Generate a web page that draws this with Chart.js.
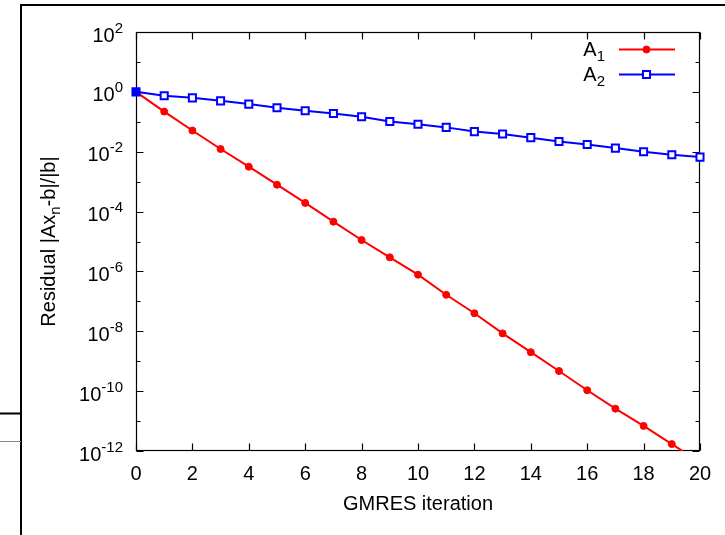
<!DOCTYPE html>
<html>
<head>
<meta charset="utf-8">
<script src="https://cdn.jsdelivr.net/npm/chart.js@4"></script>
<style>
  body { margin: 0; background: #fff; }
  canvas { display: block; }
</style>
</head>
<body>
<canvas id="grafico" width="725" height="535"></canvas>
<script>
// GMRES iterations on the x axis
const iterations = [0, 1, 2, 3, 4, 5, 6, 7, 8, 9, 10, 11, 12, 13, 14, 15, 16, 17, 18, 19, 20];

// residual |Ax_n-b|/|b|
const residualA1 = [1, 2.19e-1, 5.1e-2, 1.23e-2, 3.16e-3, 7.9e-4, 1.95e-4, 4.6e-5, 1.12e-5, 2.95e-6,
  7.8e-7, 1.66e-7, 4.0e-8, 8.5e-9, 2.0e-9, 4.7e-10, 1.07e-10, 2.6e-11, 6.9e-12, 1.7e-12, 4.2e-13];
const residualA2 = [1, 0.74, 0.63, 0.50, 0.39, 0.295, 0.234, 0.19, 0.148, 0.102,
  0.083, 0.065, 0.047, 0.039, 0.0295, 0.0219, 0.0174, 0.0132, 0.0100, 0.0079, 0.0066];

const seriesNames = ['A', 'A'];
const seriesSubs = ['1', '2'];

// y tick labels: 10^exp
const yTickExps = [2, 0, -2, -4, -6, -8, -10, -12];
const yMinorExps = [1, -1, -3, -5, -7, -9, -11];
const xTicks = [0, 2, 4, 6, 8, 10, 12, 14, 16, 18, 20];

const FONT = "'Liberation Sans', Arial, Helvetica, sans-serif";
const RED = '#ff0000';
const BLUE = '#0000ff';

Chart.defaults.font.family = FONT;
Chart.defaults.color = '#000';

function dibujarTexto(ctx, parts, x, y) {
  // parts: [texto, tamaño, desplazamiento vertical]
  let cx = x;
  parts.forEach(p => {
    ctx.font = p[1] + 'px ' + FONT;
    ctx.fillText(p[0], cx, y + p[2]);
    cx += ctx.measureText(p[0]).width;
  });
}

function anchoTexto(ctx, parts) {
  let w = 0;
  parts.forEach(p => {
    ctx.font = p[1] + 'px ' + FONT;
    w += ctx.measureText(p[0]).width;
  });
  return w;
}

const decoracion = {
  id: 'decoracion',
  beforeDraw(chart) {
    const ctx = chart.ctx;
    ctx.save();
    ctx.fillStyle = '#fff';
    ctx.fillRect(0, 0, chart.width, chart.height);
    // page frame around the figure
    ctx.strokeStyle = '#000';
    ctx.lineWidth = 2;
    ctx.beginPath();
    ctx.moveTo(21, 535);
    ctx.lineTo(21, 5);
    ctx.lineTo(725, 5);
    ctx.moveTo(0, 413.5);
    ctx.lineTo(21, 413.5);
    ctx.stroke();
    ctx.lineWidth = 1;
    ctx.strokeStyle = '#8a8a8a';
    ctx.beginPath();
    ctx.moveTo(0, 441.5);
    ctx.lineTo(21, 441.5);
    ctx.stroke();
    ctx.restore();
  },
  beforeDatasetsDraw(chart) {
    const ctx = chart.ctx;
    const a = chart.chartArea;
    const xs = chart.scales.x;
    const ys = chart.scales.y;
    const L = Math.round(a.left) + 0.5, R = Math.round(a.right) - 0.5;
    const T = Math.round(a.top) + 0.5, B = Math.round(a.bottom) - 0.5;
    ctx.save();
    ctx.strokeStyle = '#000';
    ctx.lineWidth = 1.2;
    ctx.strokeRect(L, T, R - L, B - T);
    ctx.beginPath();
    // inward ticks on all four sides
    xTicks.forEach(v => {
      const px = Math.round(xs.getPixelForValue(v)) + 0.5;
      ctx.moveTo(px, B); ctx.lineTo(px, B - 7);
      ctx.moveTo(px, T); ctx.lineTo(px, T + 7);
    });
    yTickExps.forEach(e => {
      const py = Math.round(ys.getPixelForValue(Math.pow(10, e))) + 0.5;
      ctx.moveTo(L, py); ctx.lineTo(L + 7, py);
      ctx.moveTo(R, py); ctx.lineTo(R - 7, py);
    });
    yMinorExps.forEach(e => {
      const py = Math.round(ys.getPixelForValue(Math.pow(10, e))) + 0.5;
      ctx.moveTo(L, py); ctx.lineTo(L + 4, py);
      ctx.moveTo(R, py); ctx.lineTo(R - 4, py);
    });
    ctx.stroke();
    ctx.restore();
  },
  afterDraw(chart) {
    const ctx = chart.ctx;
    const a = chart.chartArea;
    const ys = chart.scales.y;
    ctx.save();
    ctx.fillStyle = '#000';
    ctx.textBaseline = 'alphabetic';
    ctx.textAlign = 'left';

    // y tick labels 10^n
    yTickExps.forEach(e => {
      const py = ys.getPixelForValue(Math.pow(10, e));
      ctx.font = '15px ' + FONT;
      const expo = String(e);
      const we = ctx.measureText(expo).width;
      ctx.fillText(expo, 123 - we, py + 0.5);
      ctx.font = '20px ' + FONT;
      const wb = ctx.measureText('10').width;
      ctx.fillText('10', 123 - we - wb, py + 9.5);
    });

    // y axis title, rotated
    const titulo = [['Residual |Ax', 20, 0], ['n', 15, 5], ['-b|/|b|', 20, 0]];
    ctx.save();
    ctx.translate(55, (a.top + a.bottom) / 2);
    ctx.rotate(-Math.PI / 2);
    const wt = anchoTexto(ctx, titulo);
    dibujarTexto(ctx, titulo, -wt / 2, 0);
    ctx.restore();

    // legend, top right inside the plot
    const filas = [49.5, 74.5];
    chart.data.datasets.forEach((ds, i) => {
      const y = filas[i];
      const parts = [[seriesNames[i], 20, 0], [seriesSubs[i], 15, 5]];
      const w = anchoTexto(ctx, parts);
      ctx.fillStyle = '#000';
      dibujarTexto(ctx, parts, 605 - w, y + 6);
      ctx.strokeStyle = ds.borderColor;
      ctx.lineWidth = ds.borderWidth;
      ctx.beginPath();
      ctx.moveTo(619, y);
      ctx.lineTo(675, y);
      ctx.stroke();
      ctx.fillStyle = ds.pointStyle === 'circle' ? ds.borderColor : '#fff';
      ctx.lineWidth = ds.pointBorderWidth;
      ctx.beginPath();
      if (ds.pointStyle === 'circle') {
        ctx.arc(646.5, y, ds.pointRadius, 0, Math.PI * 2);
      } else {
        const s = ds.pointRadius * Math.SQRT1_2;
        ctx.rect(646.5 - s, y - s, 2 * s, 2 * s);
      }
      ctx.fill();
      ctx.stroke();
    });
    ctx.restore();
  }
};

new Chart(document.getElementById('grafico'), {
  type: 'line',
  data: {
    labels: iterations,
    datasets: [{
      label: 'A1',
      data: iterations.map((x, i) => ({ x: x, y: residualA1[i] })),
      borderColor: RED,
      backgroundColor: RED,
      borderWidth: 2,
      pointStyle: 'circle',
      pointRadius: 3.5,
      pointBorderWidth: 1,
      pointBackgroundColor: RED,
      pointBorderColor: RED,
      order: 1,
      clip: { left: 8, right: 8, top: 8, bottom: 0 }
    }, {
      label: 'A2',
      data: iterations.map((x, i) => ({ x: x, y: residualA2[i] })),
      borderColor: BLUE,
      backgroundColor: BLUE,
      borderWidth: 2,
      pointStyle: 'rect',
      pointRadius: 5,
      pointBorderWidth: 2,
      pointBackgroundColor: ctx => ctx.dataIndex === 0 ? BLUE : '#fff',
      pointBorderColor: BLUE,
      order: 0,
      clip: { left: 8, right: 8, top: 8, bottom: 0 }
    }]
  },
  options: {
    responsive: false,
    animation: false,
    events: [],
    layout: { padding: { top: 32, right: 25, left: 0, bottom: 0 } },
    plugins: {
      legend: { display: false },
      tooltip: { enabled: false }
    },
    elements: { line: { tension: 0 } },
    scales: {
      x: {
        type: 'linear',
        min: 0,
        max: 20,
        grid: { display: false, drawTicks: false },
        border: { display: false },
        ticks: {
          stepSize: 2,
          font: { size: 20 },
          color: '#000',
          padding: 11,
          maxRotation: 0
        },
        title: {
          display: true,
          text: 'GMRES iteration',
          font: { size: 20 },
          color: '#000',
          padding: { top: 0, bottom: 19 }
        },
        afterFit: s => { s.height = 84; }
      },
      y: {
        type: 'logarithmic',
        min: 1e-12,
        max: 1e2,
        grid: { display: false, drawTicks: false },
        border: { display: false },
        ticks: { display: false },
        afterFit: s => { s.width = 136; }
      }
    }
  },
  plugins: [decoracion]
});
</script>
</body>
</html>
